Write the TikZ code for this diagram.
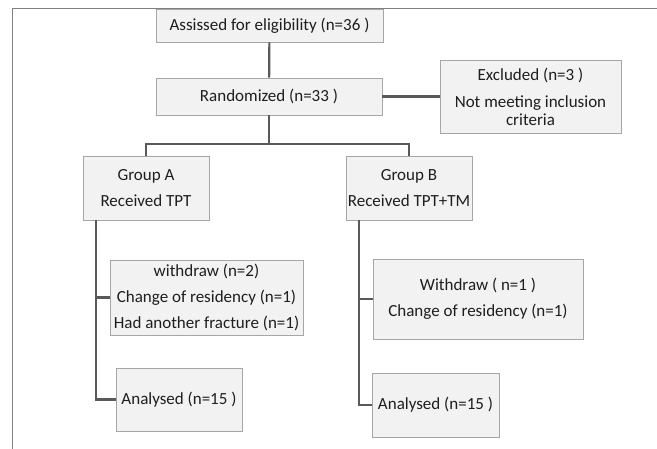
\documentclass[tikz,border=0pt]{standalone}
\usepackage{fontspec}
\setmainfont{Carlito}
\usetikzlibrary{calc, shadows}
\definecolor{boxfill}{HTML}{F2F2F2}
\definecolor{boxline}{HTML}{A6A6A6}
\definecolor{linkgray}{HTML}{595959}
\definecolor{textgray}{HTML}{1E1E1E}

\begin{document}
\begin{tikzpicture}[x=1pt, y=-1pt, font=\fontsize{17}{26}\selectfont,
    box/.style={draw=boxline, fill=boxfill, line width=0.8pt, align=center, inner sep=0pt, text=textgray,
        drop shadow={shadow xshift=1.2pt, shadow yshift=-1.2pt, fill=black!40, opacity=0.6}},
    link/.style={draw=linkgray, line width=2.2pt}]
    \useasboundingbox (0,0) rectangle (657,449);
    \draw[gray, line width=0.8pt] (12,449) -- (12,8) -- (657,8);

    \node[box, minimum width=227pt, minimum height=33pt] (assess) at (269.5,25.5) {Assissed for eligibility (n=36 )};
    \node[box, minimum width=226pt, minimum height=37pt] (random) at (269,96.5) {Randomized (n=33 )};
    \node[box, minimum width=181pt, minimum height=73pt] (excl) at (530.5,96.5) {Excluded (n=3 )\\[1pt] Not meeting inclusion\\[-8pt] criteria};

    \node[box, minimum width=126pt, minimum height=64pt] (grpA) at (146,188) {Group A\\ Received TPT};
    \node[box, minimum width=126pt, minimum height=64pt] (grpB) at (409,188) {Group B\\ Received TPT+TM};

    \node[box, minimum width=193pt, minimum height=75pt] (wdA) at (206.5,297.5) {withdraw (n=2)\\ Change of residency (n=1)\\ Had another fracture (n=1)};
    \node[box, minimum width=210pt, minimum height=80pt] (wdB) at (478,299) {Withdraw ( n=1 )\\ Change of residency (n=1)};

    \node[box, minimum width=126pt, minimum height=63pt] (anA) at (179,399.5) {Analysed (n=15 )};
    \node[box, minimum width=127pt, minimum height=64pt] (anB) at (435.5,405) {Analysed (n=15 )};

    \coordinate (split) at (269,144);
    \coordinate (trunkA) at ($ (grpA.south west) + (13,0) $);
    \coordinate (trunkB) at ($ (grpB.south west) + (13,0) $);

    \draw[link] (assess) -- (random);
    \draw[link] (random) -- (excl);
    \draw[link] (random) -- (split);
    \draw[link] (grpA.north) |- (split) -| (grpB.north);

    \draw[link] (trunkA) |- (wdA.west);
    \draw[link] (trunkA) |- (anA.west);
    \draw[link] (trunkB) |- (wdB.west);
    \draw[link] (trunkB) |- (anB.west);
\end{tikzpicture}
\end{document}
